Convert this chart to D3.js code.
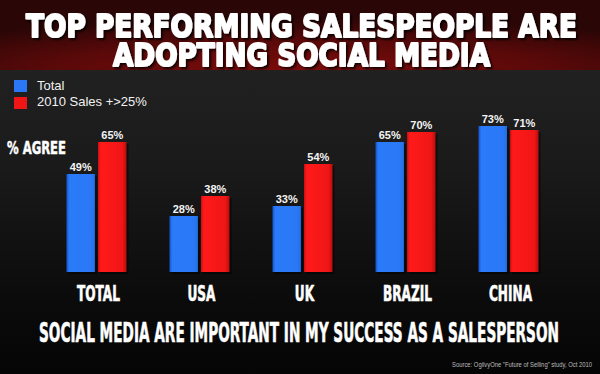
<!DOCTYPE html>
<html>
<head>
<meta charset="utf-8">
<script src="https://cdn.jsdelivr.net/npm/d3@7"></script>
<style>
  html, body { margin: 0; padding: 0; background: #000; }
  svg { display: block; }
</style>
</head>
<body>
<script>
// chart data
const categories = ['TOTAL', 'USA', 'UK', 'BRAZIL', 'CHINA'];
const seriesNames = ['Total', '2010 Sales +>25%'];
const totalValues = [49, 28, 33, 65, 73];
const topSalesValues = [65, 38, 54, 70, 71];
const titleLines = ['TOP PERFORMING SALESPEOPLE ARE', 'ADOPTING SOCIAL MEDIA'];
const subtitle = 'SOCIAL MEDIA ARE IMPORTANT IN MY SUCCESS AS A SALESPERSON';
const sourceNote = 'Source: OgilvyOne "Future of Selling" study, Oct 2010';

const width = 600, height = 374;
const narrow = '"Liberation Sans Narrow", "DejaVu Sans Condensed", "Roboto Condensed", sans-serif';

const svg = d3.select('body')
  .append('svg')
  .attr('width', width)
  .attr('height', height);

const defs = svg.append('defs');

// background gradients
const bg = defs.append('linearGradient').attr('id', 'bg')
  .attr('x1', 0).attr('y1', 0).attr('x2', 0).attr('y2', 1);
bg.append('stop').attr('offset', '0%').attr('stop-color', '#262626');
bg.append('stop').attr('offset', '45%').attr('stop-color', '#1a1a1a');
bg.append('stop').attr('offset', '80%').attr('stop-color', '#0b0b0b');
bg.append('stop').attr('offset', '100%').attr('stop-color', '#050505');

const band = defs.append('radialGradient').attr('id', 'band')
  .attr('cx', '50%').attr('cy', '100%').attr('r', '75%');
band.append('stop').attr('offset', '0%').attr('stop-color', '#7e0b0b');
band.append('stop').attr('offset', '55%').attr('stop-color', '#5a0909');
band.append('stop').attr('offset', '100%').attr('stop-color', '#2a0606');

const colors = ['#2a78f5', '#f01616'];
const gradIds = ['gBlue', 'gRed'];
const gradStops = [
  ['#1553c4', '#2a7bfa', '#2a78f5', '#2370e8'],
  ['#d80f0f', '#ff1a1a', '#f01616', '#b80c0c']
];
gradIds.forEach((id, i) => {
  const g = defs.append('linearGradient').attr('id', id)
    .attr('x1', 0).attr('y1', 0).attr('x2', 1).attr('y2', 0);
  g.append('stop').attr('offset', '0%').attr('stop-color', gradStops[i][0]);
  g.append('stop').attr('offset', '10%').attr('stop-color', gradStops[i][1]);
  g.append('stop').attr('offset', '85%').attr('stop-color', gradStops[i][2]);
  g.append('stop').attr('offset', '100%').attr('stop-color', gradStops[i][3]);
});

const shadow = defs.append('filter').attr('id', 'shadow')
  .attr('x', '-5%').attr('y', '-20%').attr('width', '110%').attr('height', '150%');
shadow.append('feDropShadow')
  .attr('dx', 2).attr('dy', 2).attr('stdDeviation', 1.2)
  .attr('flood-color', '#000').attr('flood-opacity', 0.8);

svg.append('rect')
  .attr('width', width).attr('height', height)
  .attr('fill', 'url(#bg)');

svg.append('rect')
  .attr('width', width).attr('height', 70)
  .attr('fill', 'url(#band)');

// title
const titleX = [26, 113];
const titleW = [551, 377];
const titleY = [37, 66];
titleLines.forEach((t, i) => {
  svg.append('text')
    .attr('x', titleX[i])
    .attr('y', titleY[i])
    .attr('textLength', titleW[i])
    .attr('lengthAdjust', 'spacingAndGlyphs')
    .attr('fill', '#fff')
    .attr('stroke', '#fff')
    .attr('stroke-width', 2)
    .attr('stroke-linejoin', 'round')
    .attr('filter', 'url(#shadow)')
    .style('font-family', '"DejaVu Sans", sans-serif')
    .style('font-weight', 'bold')
    .style('font-size', '32px')
    .text(t);
});

// legend
const legend = svg.append('g').attr('class', 'legend');
seriesNames.forEach((name, i) => {
  legend.append('rect')
    .attr('x', 14)
    .attr('y', 80 + i * 17)
    .attr('width', 13)
    .attr('height', 12)
    .attr('fill', colors[i]);
  legend.append('text')
    .attr('x', 37)
    .attr('y', 90 + i * 16)
    .attr('fill', '#f2f2f2')
    .style('font-family', '"Liberation Sans", Arial, sans-serif')
    .style('font-size', '13px')
    .text(name);
});

svg.append('text')
  .attr('x', 7)
  .attr('y', 154)
  .attr('textLength', 59)
  .attr('lengthAdjust', 'spacingAndGlyphs')
  .attr('fill', '#fff')
  .attr('stroke', '#fff')
  .attr('stroke-width', 0.5)
  .style('font-family', narrow)
  .style('font-weight', 'bold')
  .style('font-size', '18px')
  .text('% AGREE');

// scales
const x0 = d3.scaleBand()
  .domain(categories)
  .range([23.5, 581.5])
  .padding(0.417);

const x1 = d3.scaleBand()
  .domain(seriesNames)
  .range([0, x0.bandwidth()])
  .paddingInner(0.1);

const y = d3.scaleLinear()
  .domain([0, 100])
  .range([272, 72]);

const rows = categories.map((c, i) => ({
  category: c,
  values: [totalValues[i], topSalesValues[i]]
}));

const groups = svg.selectAll('g.group')
  .data(rows)
  .enter()
  .append('g')
  .attr('class', 'group')
  .attr('transform', d => `translate(${x0(d.category)},0)`);

const bars = groups.selectAll('g.bar')
  .data(d => d.values.map((v, i) => ({ series: seriesNames[i], idx: i, value: v })))
  .enter()
  .append('g')
  .attr('class', 'bar');

// soft shadow on the right of each bar
bars.append('rect')
  .attr('x', d => x1(d.series) + 2)
  .attr('y', d => y(d.value) + 2)
  .attr('width', x1.bandwidth())
  .attr('height', d => y(0) - y(d.value))
  .attr('fill', '#000')
  .attr('opacity', 0.45);

bars.append('rect')
  .attr('x', d => x1(d.series))
  .attr('y', d => y(d.value))
  .attr('width', x1.bandwidth())
  .attr('height', d => y(0) - y(d.value))
  .attr('fill', d => `url(#${gradIds[d.idx]})`);

bars.append('text')
  .attr('x', d => x1(d.series) + x1.bandwidth() / 2)
  .attr('y', d => y(d.value) - 3)
  .attr('text-anchor', 'middle')
  .attr('fill', '#f4f4f4')
  .style('font-family', '"Liberation Sans", Arial, sans-serif')
  .style('font-weight', 'bold')
  .style('font-size', '11px')
  .text(d => d.value + '%');

// category labels, squeezed to the condensed look of the original
const catLabels = svg.selectAll('text.cat')
  .data(categories)
  .enter()
  .append('text')
  .attr('class', 'cat')
  .attr('text-anchor', 'middle')
  .attr('fill', '#fff')
  .attr('stroke', '#fff')
  .attr('stroke-width', 0.6)
  .style('font-family', narrow)
  .style('font-weight', 'bold')
  .style('font-size', '21px')
  .text(d => d);

const refWidth = catLabels.filter(d => d === 'TOTAL').node().getComputedTextLength();
const squeeze = 43 / refWidth;
catLabels.attr('transform', d =>
  `translate(${x0(d) + x0.bandwidth() / 2 + 2},301) scale(${squeeze},1)`);

svg.append('text')
  .attr('x', 39)
  .attr('y', 342)
  .attr('textLength', 520)
  .attr('lengthAdjust', 'spacingAndGlyphs')
  .attr('fill', '#fff')
  .attr('stroke', '#fff')
  .attr('stroke-width', 0.6)
  .style('font-family', narrow)
  .style('font-weight', 'bold')
  .style('font-size', '26px')
  .text(subtitle);

svg.append('text')
  .attr('x', 452)
  .attr('y', 367)
  .attr('textLength', 140)
  .attr('lengthAdjust', 'spacingAndGlyphs')
  .attr('fill', '#bdbdbd')
  .style('font-family', '"Liberation Sans", Arial, sans-serif')
  .style('font-size', '7px')
  .text(sourceNote);
</script>
</body>
</html>
